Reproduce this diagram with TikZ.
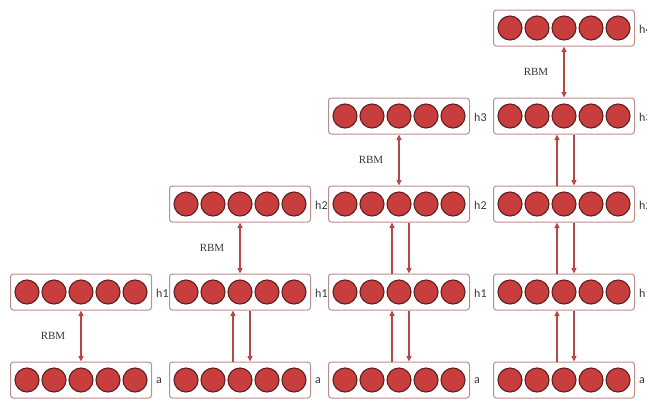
\documentclass[tikz,border=0pt]{standalone}
\usepackage{fontspec}
\newfontfamily\lblfont{Carlito}
\newfontfamily\rbmfont{Liberation Serif}
\usetikzlibrary{arrows.meta,calc}
\definecolor{unitfill}{RGB}{200,62,62}
\definecolor{unitdraw}{RGB}{95,32,32}
\definecolor{boxdraw}{RGB}{190,140,140}
\definecolor{arrowc}{RGB}{185,70,70}
\definecolor{textc}{RGB}{55,55,55}
\tikzset{
  layerbox/.style={draw=boxdraw, line width=1pt, rounded corners=3pt, minimum width=141pt, minimum height=36pt, inner sep=0pt, fill=white},
  unit/.style={circle, draw=unitdraw, line width=1.1pt, fill=unitfill, minimum size=24pt, inner sep=0pt},
  lbl/.style={font=\lblfont\fontsize{12}{13}\selectfont, text=textc, anchor=west, inner sep=0pt},
  rbm/.style={font=\rbmfont\fontsize{11}{12}\selectfont, text=textc, inner sep=0pt},
  conn/.style={draw=arrowc, line width=1.1pt},
  tip/.style={-{Triangle[length=5.5pt,width=5pt]}},
  dtip/.style={{Triangle[length=5.5pt,width=5pt]}-{Triangle[length=5.5pt,width=5pt]}}
}
\newcommand{\mylayer}[4]{%
  \node[layerbox] (#1) at (#2,#3) {};
  \foreach \i in {-2,-1,0,1,2} {\node[unit] (#1-u\i) at ($(#1)+(\i*27,0)$) {};}
  \node[lbl] (#1-l) at ($(#1.east)+(4,1)$) {#4};
}
\begin{document}
\begin{tikzpicture}[x=1pt,y=-1pt]
\useasboundingbox (0,0) rectangle (647,402);
% column 1
\mylayer{c1a}{81}{380}{a}
\mylayer{c1h1}{81}{292}{h1}
% column 2
\mylayer{c2a}{240}{380}{a}
\mylayer{c2h1}{240}{292}{h1}
\mylayer{c2h2}{240}{204}{h2}
% column 3
\mylayer{c3a}{399}{380}{a}
\mylayer{c3h1}{399}{292}{h1}
\mylayer{c3h2}{399}{204}{h2}
\mylayer{c3h3}{399}{116}{h3}
% column 4
\mylayer{c4a}{564}{380}{a}
\mylayer{c4h1}{564}{292}{h1}
\mylayer{c4h2}{564}{204}{h2}
\mylayer{c4h3}{564}{116}{h3}
\mylayer{c4h4}{564}{28}{h4}
% RBM arrows
\draw[conn,dtip] (c1h1.south) -- (c1a.north);
\node[rbm] (r1) at ($(c1h1.south)!0.5!(c1a.north)+(-28,0)$) {RBM};
\draw[conn,dtip] (c2h2.south) -- (c2h1.north);
\node[rbm] (r2) at ($(c2h2.south)!0.5!(c2h1.north)+(-28,0)$) {RBM};
\draw[conn,dtip] (c3h3.south) -- (c3h2.north);
\node[rbm] (r3) at ($(c3h3.south)!0.5!(c3h2.north)+(-28,0)$) {RBM};
\draw[conn,dtip] (c4h4.south) -- (c4h3.north);
\node[rbm] (r4) at ($(c4h4.south)!0.5!(c4h3.north)+(-28,0)$) {RBM};
% up/down pairs
\foreach \lo/\hi in {c2a/c2h1, c3a/c3h1, c3h1/c3h2, c4a/c4h1, c4h1/c4h2, c4h2/c4h3} {
  \draw[conn,tip] ([xshift=-7pt]\lo.north) -- ([xshift=-7pt]\hi.south);
  \draw[conn,tip] ([xshift=10pt]\hi.south) -- ([xshift=10pt]\lo.north);
}
\end{tikzpicture}
\end{document}
